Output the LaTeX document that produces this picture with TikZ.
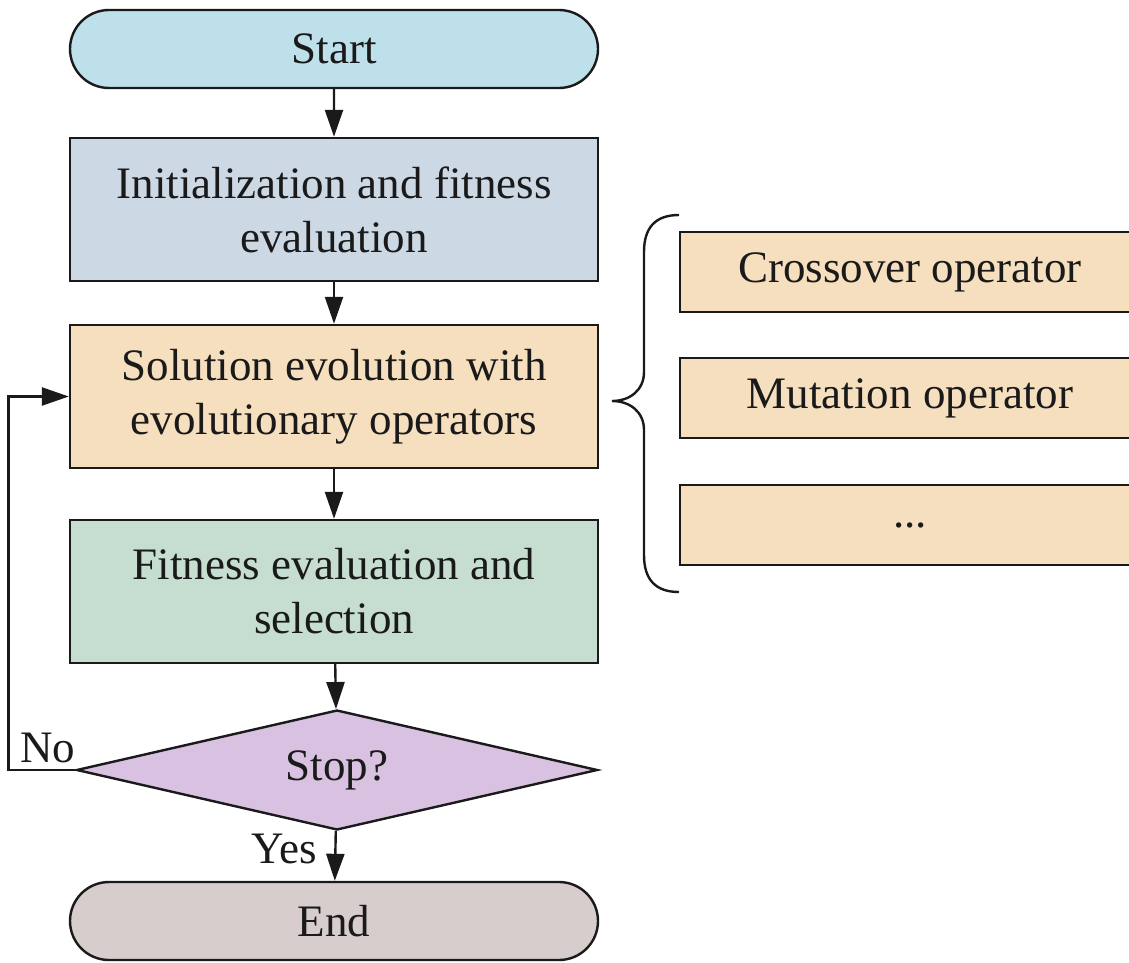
\documentclass[tikz,border=0pt]{standalone}
\usepackage{fontspec}
\setmainfont{Liberation Serif}
\usetikzlibrary{shapes.misc,shapes.geometric,arrows.meta}
\definecolor{cstart}{HTML}{BEE0EA}
\definecolor{cinit}{HTML}{CDD8E5}
\definecolor{csol}{HTML}{F5DFBE}
\definecolor{cfit}{HTML}{C5DED0}
\definecolor{cstop}{HTML}{D8C1E1}
\definecolor{cend}{HTML}{D8CDCD}
\definecolor{ink}{HTML}{1A1A1A}
\begin{document}
\begin{tikzpicture}[x=1pt,y=-1pt,
  txt/.style={font=\fontsize{45}{54}\selectfont, text=ink},
  box/.style={txt, draw=ink, line width=2.4pt, minimum width=528pt, minimum height=143pt, inner sep=0pt, align=center},
  term/.style={box, rounded rectangle, minimum height=78pt},
  opbox/.style={txt, draw=ink, line width=2.4pt, minimum width=460pt, minimum height=80pt, inner sep=0pt, fill=csol},
  arr/.style={draw=ink, line width=2.4pt, -{Triangle[length=27pt,width=18pt]}},
]
\useasboundingbox (0,0) rectangle (1129,963);
\node[term, fill=cstart] (start) at (334,49) {Start};
\node[box, fill=cinit] (init) at (334,209.5) {Initialization and fitness\\evaluation};
\node[box, fill=csol] (sol) at (334,396.5) {Solution evolution with\\evolutionary operators};
\node[box, fill=cfit] (fit) at (334,591.5) {Fitness evaluation and\\selection};
\node[txt, draw=ink, line width=2.4pt, diamond, shape aspect=4.34, fill=cstop, minimum width=521pt, minimum height=120pt, inner sep=0pt] (stop) at (337,770) {Stop?};
\node[term, fill=cend] (end) at (334,921) {End};

\node[opbox] (cross) at (910,272) {Crossover operator};
\node[opbox] (mut) at (910,398) {Mutation operator};
\node[opbox] (dots) at (910,525) {...};

\node[txt] (no) at (48,748) {No};
\node[txt] (yes) at (284,849) {Yes};

\draw[arr] (start) -- (init);
\draw[arr] (init) -- (sol);
\draw[arr] (sol) -- (fit);
\draw[arr] (fit) -- (stop);
\draw[arr] (stop) -- (end);
\draw[arr] (stop.west) -- ++(-67,0) |- (sol.west);

\coordinate (btop) at (679,215);
\coordinate (btip) at (612,401);
\coordinate (bbot) at (679,592);
\draw[ink, line width=2.4pt] (btop) .. controls (655,215) and (644,228) .. (644,252)
  -- (644,372) .. controls (644,390) and (630,401) .. (btip)
  .. controls (630,401) and (644,412) .. (644,430)
  -- (644,555) .. controls (644,579) and (655,592) .. (bbot);
\end{tikzpicture}
\end{document}
